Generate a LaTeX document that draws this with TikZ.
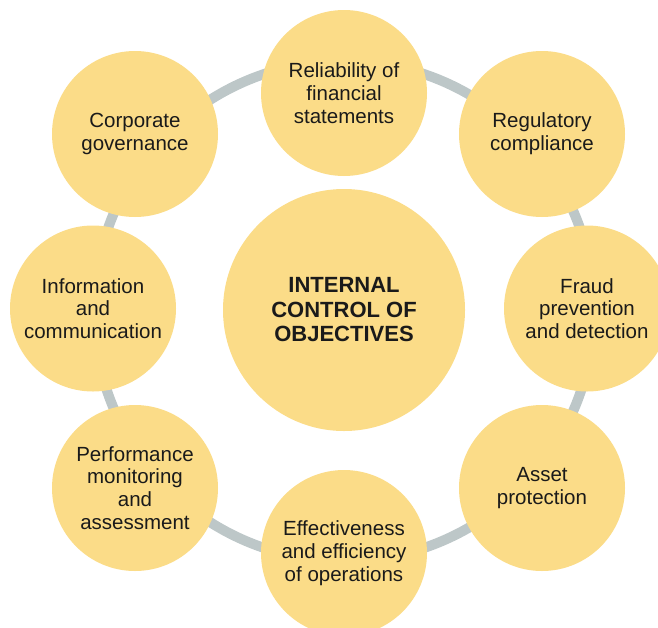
\documentclass[tikz,border=0pt]{standalone}
\usepackage{fontspec}
\setmainfont{Liberation Sans}
\definecolor{petal}{HTML}{FBDC88}
\definecolor{ringgray}{HTML}{BDC7C8}
\definecolor{ink}{HTML}{1A1A1A}
\begin{document}
\begin{tikzpicture}[x=1pt,y=-1pt,
  objective/.style={circle, fill=petal, minimum size=166pt, inner sep=0pt,
    align=center, text=ink, font=\fontsize{20.5}{22.8}\selectfont},
  hub/.style={circle, fill=petal, minimum size=242pt, inner sep=0pt,
    align=center, text=ink, font=\fontsize{22}{24.5}\selectfont\bfseries},
  ring/.style={draw=ringgray, line width=10pt}]
\useasboundingbox (0,0) rectangle (658,627);
\clip (0,0) rectangle (658,627);
% connecting ring behind the objectives
\coordinate (ringc) at (344,311);
\draw[ring] (ringc) circle[radius=250];
% central circle
\node[hub] (hub) at (344,310) {INTERNAL\\CONTROL OF\\OBJECTIVES};
% surrounding objectives
\node[objective] (rel) at (344,93) {Reliability of\\financial\\statements};
\node[objective] (reg) at (542,134) {Regulatory\\compliance};
\node[objective] (fraud) at (587,308.5) {Fraud\\prevention\\and detection};
\node[objective] (asset) at (542,488) {Asset\\protection};
\node[objective] (eff) at (344,553) {Effectiveness\\and efficiency\\of operations};
\node[objective] (perf) at (135,488) {Performance\\monitoring\\and\\assessment};
\node[objective] (info) at (93,308.5) {Information\\and\\communication};
\node[objective] (corp) at (135,134) {Corporate\\governance};
\end{tikzpicture}
\end{document}
